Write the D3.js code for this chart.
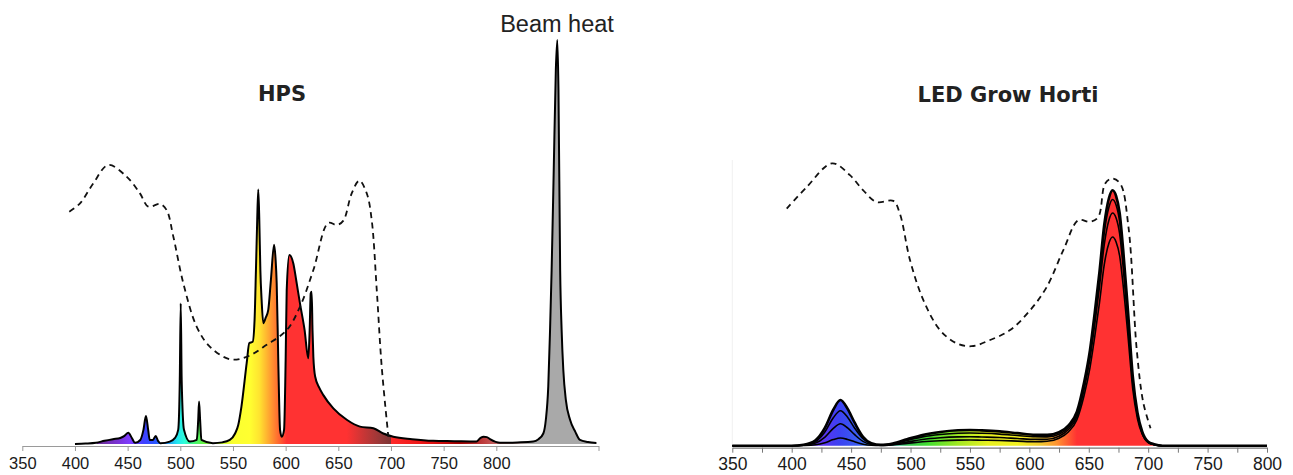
<!DOCTYPE html>
<html>
<head>
<meta charset="utf-8">
<script src="https://cdn.jsdelivr.net/npm/d3@7"></script>
<style>
  body { margin: 0; background: #fff; }
  svg { display: block; }
</style>
</head>
<body>
<div class="chart"></div>
<script>
// ---- HPS spectrum (left panel), relative units, beam heat peak = 100
const hpsNm = [400,410,420,428,436,443,447,450.6,454,457,462,465,467.4,469.5,471,474,476.6,479,481,490,495,498,499.5,500.4,501.3,503.5,509,515.6,517,517.8,518.8,520,531,540,547,552,555,558,563,565.5,568.7,570.5,571.8,573,574,575,576,577.2,578.8,581,583.5,586,589,590.5,591.5,593,594.7,596.3,598.5,600,601,603.5,607.3,610,613.6,618,621.5,622.8,623.8,624.7,625.5,626.3,628,632,635.8,645.3,658,670.6,683.3,692.7,702.2,720,740,760,781,785,788,791,794,803.5,820,835,840,844.6,847,849.3,851,852.5,854.5,856.5,857.9,859,860.6,862,863.6,866,870,875,879.4,887,895]
const hpsVal = [0,0.1,0.3,0.8,1.2,1.5,2,2.8,1.5,0.3,1,3.5,6.9,3.5,1,1,2,0.7,0.2,0.6,1.5,3.5,15.8,34.8,15.8,3.5,0.6,1,6,10.5,6,1,0.2,0.4,1,2.6,4.7,9.2,20,25,25.3,30.7,43,55.4,63,55.4,43,35.6,29.9,31.2,33.2,40.6,49.3,45.5,39.8,20.8,3.5,1.8,3.5,20.8,38,46.8,44.7,40.6,34.8,28.2,21.2,28.2,37.3,37.7,28.2,21.6,16.7,13.9,12.1,8.8,6,4.3,3.9,2.6,1.8,1.2,0.8,0.7,0.6,1.5,1.8,1.7,1.2,0.3,0.4,0.6,1.2,2.6,6,14.2,28.2,43,67.8,92.6,100,87.6,43,28.2,18.3,10.9,6,3,1,0.5,0.25]

// ---- McCree action spectrum (dashed), as read in each panel, max = 1
const mccreeLeftNm = [394.6,404.8,417.4,431.6,449,461.7,469.6,480.7,487,493.4,502.9,515.6,528.2,547.2,563,582,601,613.6,626.3,640.5,648.5,654.8,662.7,670,677,681.7,686.5,691.2,697.5]
const mccreeLeftVal = [0.832,0.862,0.934,1,0.958,0.898,0.85,0.86,0.838,0.742,0.574,0.418,0.346,0.301,0.31,0.353,0.406,0.49,0.622,0.792,0.784,0.8,0.898,0.944,0.898,0.802,0.55,0.274,0.023]
const mccreeRightNm = [395.8,412.6,434,449,460,471.5,485.5,491,499.6,510.8,524.8,538.9,551.5,567,583.8,600.6,614.7,628.6,641.3,651,658,663.7,669.4,676.5,683.4,690.4,696,702]
const mccreeRightVal = [0.84,0.916,1,0.958,0.905,0.863,0.867,0.822,0.657,0.516,0.41,0.363,0.353,0.375,0.41,0.48,0.563,0.693,0.799,0.793,0.81,0.928,0.946,0.928,0.775,0.339,0.151,0.063]

// ---- LED Grow Horti spectra (right panel), four settings, relative units
const ledNm = [350,400,410,420,428,435,441,447,453,460,467,475,485,497,510,525,540,550,560,575,590,605,615,625,633,640,646,651,655,659,663,667,670,673,676,679,683,687,691,695,700,705,712,800]
const led1 = [0,0,1,5.5,18,36,45.7,37,23,9,2.5,0.8,2.3,6.4,10.8,13.8,15.4,15.7,15.3,14.3,12.6,11,10.8,13.5,20.5,34,63,95.7,133,174,221,248,255.7,250,233,195.7,135,70,33,14,4,1.5,0,0]
const led2 = [0,0,0.7,4.2,14,28,35,28.5,17.5,7,2,0.6,1.8,5.2,8.8,11.2,12.5,12.7,12.4,11.6,10.2,8.9,8.8,11.5,18.5,31.5,60,92,128,168,213,239,246.5,241,224,188,129,66,31,13,3.6,1.2,0,0]
const led3 = [0,0,0.5,2.6,8.6,17.3,22,17.8,11,4.3,1.2,0.4,1.3,3.6,6.2,7.9,8.8,9,8.7,8.2,7.2,6.3,6.5,9.5,16.5,29,56,87,121,159,201,226,233,228,212,178,123,63,30,12.5,3.4,1.1,0,0]
const led4 = [0,0,0.2,0.9,3,6.1,7.7,6.3,3.9,1.5,0.4,0.2,0.8,2.3,3.9,5,5.6,5.7,5.5,5.2,4.6,4,4.5,7.5,14,26,50,78,109,143,181,203,209,204,190,160,110,57,27,11.5,3.2,1,0,0]

// ---- axis ticks
const hpsTicks = [350,400,450,500,550,600,650,700,750,800]
const ledTicks = [350,375,400,425,450,475,500,525,550,575,600,625,650,675,700,725,750,775,800]

// spectral fill colours (style)
const hpsStops = [[400,"#ffffff"],[420,"#ffffff"],[421,"#6c2f92"],[440,"#7a32d2"],[452,"#7f3cff"],[465,"#4040ff"],[476,"#2a55ff"],[488,"#2596f2"],[497,"#22e6f0"],[504,"#30fcd8"],[512,"#40f880"],[522,"#66f040"],[536,"#b8f830"],[550,"#fbff30"],[566,"#ffff30"],[575,"#ffe430"],[584,"#ffa830"],[593,"#ff6a30"],[601,"#ff3232"],[658,"#ff3232"],[676,"#c23636"],[690,"#963838"],[700,"#7c3434"],[700.1,"#ff2a2a"],[735,"#e81414"],[765,"#a30000"],[790,"#c04444"],[812,"#c08c8c"],[830,"#a9a9a9"],[897,"#a9a9a9"]]
const ledStops = [[400,"#7030c0"],[425,"#5e32f0"],[440,"#3c42f2"],[458,"#3a62f0"],[470,"#40a0f0"],[485,"#40c0b0"],[500,"#34c448"],[515,"#44e030"],[540,"#a2e822"],[565,"#e8f020"],[590,"#f2f020"],[610,"#f2c830"],[623,"#ff9430"],[640,"#ff3232"],[800,"#ff3232"]]

const width = 1293, height = 475

d3.select(".chart > *").remove()
const svg = d3.select(".chart").append("svg").attr("width", width).attr("height", height)
const defs = svg.append("defs")

const makeGrad = (id, x, stops) => {
  const g = defs.append("linearGradient").attr("id", id)
    .attr("gradientUnits", "userSpaceOnUse")
    .attr("x1", x(stops[0][0])).attr("x2", x(stops[stops.length - 1][0]))
    .attr("y1", 0).attr("y2", 0)
  const span = stops[stops.length - 1][0] - stops[0][0]
  stops.forEach(s => g.append("stop").attr("offset", (s[0] - stops[0][0]) / span).attr("stop-color", s[1]))
}

// ================= left: HPS =================
const xL = d3.scaleLinear().domain([350, 897]).range([22.3, 598.5])
const yL = d3.scaleLinear().domain([0, 100]).range([444, 40])
const yLm = d3.scaleLinear().domain([0, 1]).range([443, 165])

makeGrad("hpsGrad", xL, hpsStops)

const hpsData = hpsNm.map((n, i) => ({ nm: n, v: hpsVal[i] }))
const left = svg.append("g")

left.append("path").datum(hpsData)
  .attr("fill", "url(#hpsGrad)")
  .attr("d", d3.area().x(d => xL(d.nm)).y0(yL(0)).y1(d => yL(d.v)).curve(d3.curveMonotoneX))

left.append("path").datum(hpsData)
  .attr("fill", "none").attr("stroke", "#000").attr("stroke-width", 2).attr("stroke-linejoin", "round")
  .attr("d", d3.line().x(d => xL(d.nm)).y(d => yL(d.v)).curve(d3.curveMonotoneX))

left.append("path").datum(mccreeLeftNm.map((n, i) => ({ nm: n, v: mccreeLeftVal[i] })))
  .attr("fill", "none").attr("stroke", "#111").attr("stroke-width", 1.8).attr("stroke-dasharray", "6,4.5")
  .attr("d", d3.line().x(d => xL(d.nm)).y(d => yLm(d.v)).curve(d3.curveCatmullRom))

const xAxisL = left.append("g").attr("transform", "translate(0,446)")
  .call(d3.axisBottom(xL).tickValues(hpsTicks.concat([897])).tickSize(5).tickSizeOuter(0).tickPadding(6)
    .tickFormat(d => (d > 800 ? "" : d)))
xAxisL.select(".domain").attr("stroke", "#9a9a9a").attr("stroke-width", 1.2)
xAxisL.selectAll(".tick line").attr("stroke", "#9a9a9a")
xAxisL.selectAll("text").attr("fill", "#1a1a1a").style("font", "16.5px 'Liberation Sans', Arial, sans-serif")

left.append("text").attr("x", 282).attr("y", 101).attr("text-anchor", "middle")
  .style("font", "bold 21px 'DejaVu Sans', Verdana, sans-serif").attr("fill", "#222").text("HPS")
left.append("text").attr("x", 557).attr("y", 32).attr("text-anchor", "middle")
  .style("font", "23.5px 'Liberation Sans', Arial, sans-serif").attr("fill", "#222").text("Beam heat")

// ================= right: LED =================
const xR = d3.scaleLinear().domain([350, 800]).range([732.3, 1267])
const yR = d3.scaleLinear().domain([0, 256]).range([445.7, 190])
const yRm = d3.scaleLinear().domain([0, 1]).range([446, 163.3])

makeGrad("ledGrad", xR, ledStops)

const right = svg.append("g")
right.append("line").attr("x1", xR(350)).attr("x2", xR(350)).attr("y1", 160).attr("y2", 447)
  .attr("stroke", "#f0f0f0").attr("stroke-width", 1)

const ledSeries = [led1, led2, led3, led4].map(s => ledNm.map((n, i) => ({ nm: n, v: s[i] })))
const ledLine = d3.line().x(d => xR(d.nm)).y(d => yR(d.v)).curve(d3.curveMonotoneX)

right.append("path").datum(ledSeries[0])
  .attr("fill", "url(#ledGrad)")
  .attr("d", d3.area().x(d => xR(d.nm)).y0(yR(0)).y1(d => yR(d.v)).curve(d3.curveMonotoneX))

right.selectAll(".led-line").data(ledSeries.slice(1)).enter().append("path")
  .attr("class", "led-line")
  .attr("fill", "none").attr("stroke", "#000").attr("stroke-width", 1.6)
  .attr("d", ledLine)

right.append("path").datum(ledSeries[0])
  .attr("fill", "none").attr("stroke", "#000").attr("stroke-width", 2.6).attr("stroke-linejoin", "round")
  .attr("d", ledLine)

right.append("path").datum(mccreeRightNm.map((n, i) => ({ nm: n, v: mccreeRightVal[i] })))
  .attr("fill", "none").attr("stroke", "#111").attr("stroke-width", 1.8).attr("stroke-dasharray", "6,4.5")
  .attr("d", d3.line().x(d => xR(d.nm)).y(d => yRm(d.v)).curve(d3.curveCatmullRom))

const xAxisR = right.append("g").attr("transform", "translate(0,447.7)")
  .call(d3.axisBottom(xR).tickValues(ledTicks).tickSize(5).tickSizeOuter(0).tickPadding(5)
    .tickFormat(d => (d % 50 === 0 ? d : "")))
xAxisR.select(".domain").attr("stroke", "#777").attr("stroke-width", 1.2)
xAxisR.selectAll(".tick line").attr("stroke", "#777")
xAxisR.selectAll("text").attr("fill", "#1a1a1a").style("font", "17.5px 'Liberation Sans', Arial, sans-serif")

right.append("text").attr("x", 1008).attr("y", 102).attr("text-anchor", "middle")
  .style("font", "bold 21px 'DejaVu Sans', Verdana, sans-serif").attr("fill", "#222").text("LED Grow Horti")
</script>
</body>
</html>
